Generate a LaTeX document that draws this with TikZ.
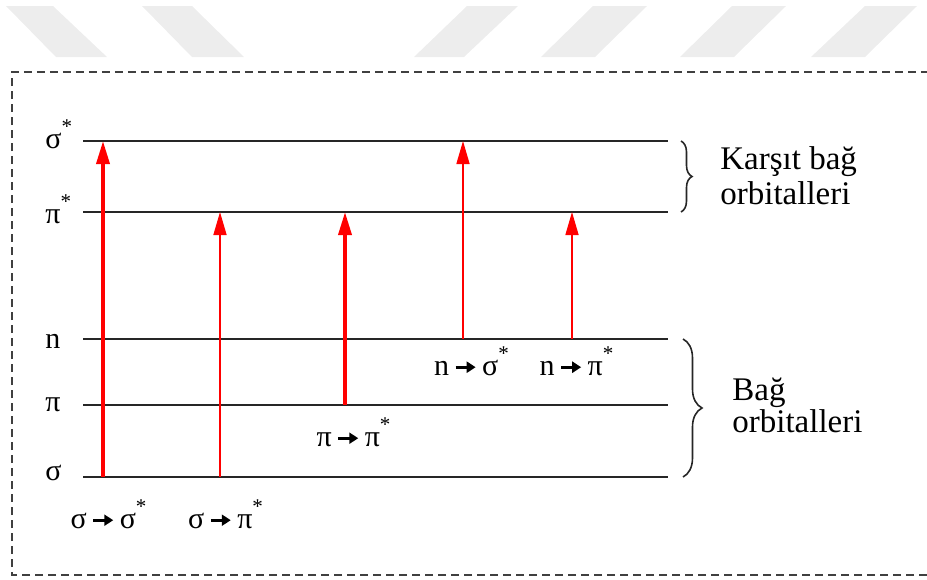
\documentclass[tikz,border=0pt]{standalone}
\usepackage{fontspec}
\setmainfont{Liberation Serif}
\usetikzlibrary{
    arrows.meta,              % For arrow tips
    decorations.pathreplacing,% For the braces
    positioning               % For label positioning
}

% Short bold arrow used inside the transition labels
\newcommand{\trto}{\tikz[baseline]\draw[black, line width=1.5pt, -{Triangle[length=4.5pt, width=5.5pt]}] (0,0.26em) -- (10pt,0.26em);}
\newcommand{\st}{\raisebox{0.15em}{\textsuperscript{*}}}

\begin{document}
\begin{tikzpicture}[
    x=0.5pt, y=-0.5pt,  % one unit = one pixel of the reference
    >={Triangle[length=11.5pt, width=6.5pt]}, % Default arrow tip
    level/.style={black!85, line width=0.9pt},      % Energy levels
    thinjump/.style={red, line width=0.8pt, ->},    % Weak transitions
    thickjump/.style={red, line width=1.8pt, ->},   % Strong transitions
    levellabel/.style={anchor=base west, inner sep=0pt, font=\fontsize{15}{18}\selectfont},
    translabel/.style={anchor=base, inner sep=0pt, font=\fontsize{15}{18}\selectfont},
    bracetext/.style={anchor=base west, inner sep=0pt, font=\fontsize{16.5}{20}\selectfont},
    bracestyle/.style={black!85, line width=0.8pt, decorate},
    watermark/.style={fill=black!7}
]
    \useasboundingbox (0,0) rectangle (927,579);

    % Faint watermark stripes at the top
    \fill[watermark] (6,6) -- (53,6) -- (107,57) -- (56,57) -- cycle;
    \fill[watermark] (142,6) -- (192,6) -- (244,57) -- (192,57) -- cycle;
    \fill[watermark] (467,6) -- (518,6) -- (464,57) -- (414,57) -- cycle;
    \fill[watermark] (593,6) -- (647,6) -- (595,57) -- (541,57) -- cycle;
    \fill[watermark] (732,6) -- (786,6) -- (734,57) -- (680,57) -- cycle;
    \fill[watermark] (865,6) -- (917,6) -- (865,57) -- (811,57) -- cycle;

    % Dashed frame (right side runs off the picture)
    \draw[black!75, line width=1pt, dash pattern=on 4pt off 2.5pt]
        (940,575) -- (12,575) -- (12,72) -- (940,72);

    % Energy levels
    \def\xl{83}  % left end of level lines
    \def\xr{668} % right end of level lines
    \draw[level] (\xl,141) -- (\xr,141); % sigma*
    \draw[level] (\xl,212) -- (\xr,212); % pi*
    \draw[level] (\xl,339) -- (\xr,339); % n
    \draw[level] (\xl,405) -- (\xr,405); % pi
    \draw[level] (\xl,477) -- (\xr,477); % sigma

    % Level labels
    \node[levellabel] (lsigs) at (45,148) {σ\st};
    \node[levellabel] (lpis)  at (45,223) {π\st};
    \node[levellabel] (ln)    at (45,348) {n};
    \node[levellabel] (lpi)   at (45,411) {π};
    \node[levellabel] (lsig)  at (45,480) {σ};

    % End points of the transitions
    \coordinate (ss0) at (103,477); \coordinate (ss1) at (103,141);
    \coordinate (sp0) at (220,477); \coordinate (sp1) at (220,212);
    \coordinate (pp0) at (345,405); \coordinate (pp1) at (345,212);
    \coordinate (ns0) at (463,339); \coordinate (ns1) at (463,141);
    \coordinate (np0) at (572,339); \coordinate (np1) at (572,212);

    % Transitions
    \draw[thickjump] (ss0) -- (ss1);
    \draw[thinjump]  (sp0) -- (sp1);
    \draw[thickjump] (pp0) -- (pp1);
    \draw[thinjump]  (ns0) -- (ns1);
    \draw[thinjump]  (np0) -- (np1);

    % Transition labels
    \node[translabel] (tss) at (109,528) {σ\,\trto\,σ\st};
    \node[translabel] (tsp) at (226,528) {σ\,\trto\,π\st};
    \node[translabel] (tpp) at (354,446) {π\,\trto\,π\st};
    \node[translabel] (tns) at (472,375) {n\,\trto\,σ\st};
    \node[translabel] (tnp) at (577,375) {n\,\trto\,π\st};

    % Braces and their texts
    \draw[bracestyle, decoration={brace, amplitude=5.5pt}] (681,141) -- (681,212);
    \node[bracetext] (kb1) at (720,169) {Karşıt bağ};
    \node[bracetext] (kb2) at (720,204) {orbitalleri};

    \draw[bracestyle, decoration={brace, amplitude=9.5pt}] (683,339) -- (683,477);
    \node[bracetext] (bb1) at (732,400) {Bağ};
    \node[bracetext] (bb2) at (732,432) {orbitalleri};

\end{tikzpicture}
\end{document}
